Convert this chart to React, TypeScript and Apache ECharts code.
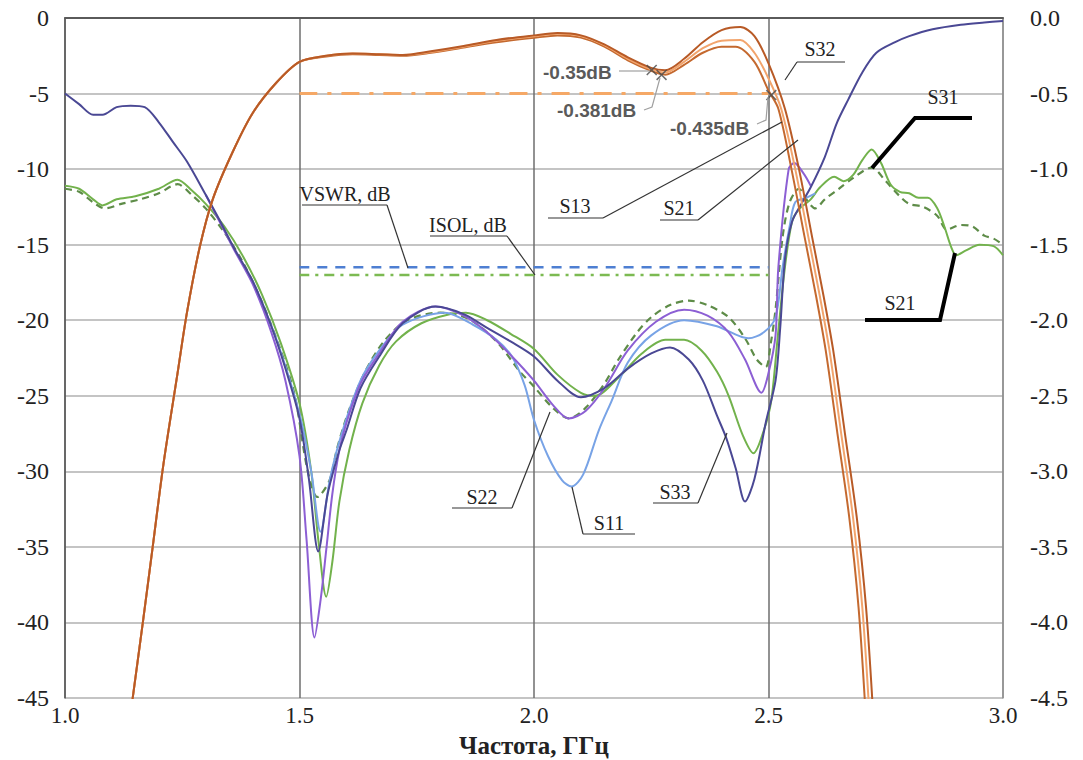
import React, { useEffect, useRef } from 'react';
import * as echarts from 'echarts';

// ---- data (frequency GHz, dB) ----
const xTicks = [1.0, 1.5, 2.0, 2.5, 3.0];
const xTitle = 'Частота, ГГц';

// left axis (dB), reflection / isolation
const s33Navy: number[][] = [[1.0,-5.0],[1.03,-5.7],[1.06,-6.4],[1.08,-6.4],[1.11,-5.9],[1.14,-5.8],[1.17,-5.9],[1.2,-6.9],[1.23,-8.2],[1.26,-9.5],[1.3,-11.7],[1.33,-13.4],[1.36,-15.2],[1.4,-17.4],[1.44,-20.4],[1.47,-23.2],[1.5,-26.5],[1.52,-30.5],[1.54,-35.3],[1.56,-31.5],[1.585,-28.6],[1.6,-27.3],[1.63,-24.5],[1.67,-22.4],[1.72,-20.2],[1.79,-19.1],[1.85,-19.6],[1.9,-20.5],[1.95,-21.4],[2.0,-22.4],[2.05,-24.0],[2.1,-25.1],[2.15,-24.5],[2.2,-23.2],[2.25,-22.2],[2.29,-21.8],[2.33,-22.6],[2.36,-24.0],[2.39,-26.3],[2.41,-27.8],[2.43,-29.8],[2.45,-32.0],[2.47,-30.5],[2.494,-26.8],[2.515,-24.0],[2.525,-20.5],[2.535,-16.0],[2.55,-13.5],[2.57,-12.3],[2.59,-11.2],[2.62,-9.2],[2.645,-7.0],[2.67,-5.4],[2.7,-3.6],[2.73,-2.3],[2.77,-1.6],[2.8,-1.2],[2.85,-0.75],[2.91,-0.45],[2.96,-0.3],[3.0,-0.2]];
const s22Purple: number[][] = [[1.3,-11.7],[1.36,-15.3],[1.4,-17.6],[1.44,-20.8],[1.47,-24.0],[1.5,-29.0],[1.515,-34.5],[1.532,-41.0],[1.545,-38.5],[1.557,-35.2],[1.57,-31.5],[1.585,-28.6],[1.6,-26.8],[1.63,-24.2],[1.67,-22.2],[1.72,-20.1],[1.79,-19.1],[1.85,-19.7],[1.9,-20.8],[1.95,-22.3],[2.0,-24.0],[2.04,-25.6],[2.074,-26.5],[2.11,-26.0],[2.15,-24.5],[2.2,-22.0],[2.26,-20.1],[2.32,-19.3],[2.37,-19.7],[2.415,-20.8],[2.45,-22.6],[2.485,-24.8],[2.5,-23.5],[2.515,-21.0],[2.521,-16.5],[2.543,-10.0],[2.555,-9.6],[2.575,-10.3],[2.59,-11.1]];
const s11Blue: number[][] = [[1.4,-17.4],[1.45,-21.2],[1.5,-26.2],[1.525,-30.0],[1.545,-34.0],[1.565,-30.5],[1.59,-27.5],[1.63,-24.0],[1.67,-22.0],[1.72,-20.3],[1.81,-19.5],[1.87,-20.3],[1.92,-21.3],[1.953,-22.4],[1.98,-24.3],[2.0,-26.6],[2.03,-29.0],[2.06,-30.6],[2.08,-31.0],[2.105,-30.2],[2.138,-27.3],[2.166,-25.3],[2.2,-22.8],[2.25,-21.0],[2.32,-20.0],[2.39,-20.4],[2.457,-21.2],[2.49,-20.8],[2.515,-19.8],[2.53,-16.5],[2.545,-13.8],[2.557,-12.2],[2.58,-11.9],[2.6,-11.6]];
const s21Green: number[][] = [[1.0,-11.1],[1.03,-11.3],[1.06,-12.0],[1.08,-12.4],[1.11,-12.0],[1.15,-11.8],[1.2,-11.3],[1.24,-10.7],[1.27,-11.4],[1.3,-12.3],[1.34,-13.8],[1.38,-15.8],[1.42,-18.3],[1.46,-21.5],[1.5,-25.5],[1.525,-30.0],[1.54,-34.5],[1.557,-38.3],[1.57,-36.0],[1.585,-32.0],[1.606,-28.6],[1.634,-25.5],[1.67,-23.0],[1.706,-21.4],[1.76,-20.2],[1.82,-19.6],[1.855,-19.5],[1.9,-20.0],[1.95,-20.9],[2.0,-21.9],[2.05,-23.6],[2.1,-24.8],[2.13,-25.0],[2.18,-23.8],[2.23,-22.2],[2.28,-21.3],[2.32,-21.3],[2.357,-22.0],[2.39,-23.4],[2.415,-25.0],[2.445,-27.6],[2.468,-28.8],[2.49,-27.3],[2.506,-25.3],[2.52,-21.0],[2.535,-16.5],[2.55,-13.5],[2.564,-12.7],[2.59,-12.0],[2.61,-11.2],[2.64,-10.5],[2.66,-10.8],[2.68,-10.4],[2.7,-9.4],[2.72,-8.7],[2.74,-9.6],[2.76,-11.0],[2.78,-11.5],[2.8,-11.6],[2.82,-11.9],[2.84,-11.9],[2.86,-12.6],[2.875,-13.8],[2.89,-15.2],[2.9,-15.7],[2.92,-15.4],[2.95,-15.0],[2.98,-15.1],[3.0,-15.7]];
const s31Dashed: number[][] = [[1.0,-11.3],[1.03,-11.5],[1.06,-12.2],[1.085,-12.6],[1.12,-12.3],[1.16,-12.0],[1.2,-11.6],[1.24,-11.0],[1.27,-11.7],[1.3,-12.6],[1.34,-14.2],[1.38,-16.2],[1.42,-18.8],[1.46,-22.0],[1.49,-25.0],[1.517,-29.9],[1.538,-31.7],[1.564,-30.6],[1.58,-28.5],[1.605,-26.0],[1.64,-23.4],[1.68,-21.4],[1.73,-20.0],[1.8,-19.5],[1.86,-19.9],[1.92,-21.4],[1.97,-23.4],[2.0,-24.4],[2.04,-25.8],[2.074,-26.5],[2.11,-25.8],[2.15,-24.2],[2.18,-22.6],[2.22,-20.8],[2.25,-19.8],[2.29,-19.0],[2.33,-18.7],[2.37,-19.0],[2.415,-19.8],[2.45,-21.2],[2.475,-22.6],[2.494,-23.1],[2.505,-21.5],[2.515,-19.3],[2.53,-14.5],[2.545,-12.2],[2.565,-11.3],[2.585,-12.2],[2.6,-12.6],[2.62,-12.0],[2.65,-11.3],[2.68,-10.6],[2.72,-9.9],[2.75,-10.8],[2.78,-11.8],[2.8,-12.3],[2.83,-12.5],[2.86,-13.1],[2.88,-14.0],[2.91,-13.7],[2.935,-13.8],[2.96,-14.4],[2.98,-14.6],[3.0,-15.0]];
const vswrLevel: number[][] = [[1.5,-16.5],[2.5,-16.5]];
const isolLevel: number[][] = [[1.5,-17.0],[2.5,-17.0]];

// right axis (dB), transmission
const s32Outer: number[][] = [[1.14,-4.6],[1.166,-4.0],[1.187,-3.5],[1.21,-2.95],[1.24,-2.35],[1.26,-1.95],[1.287,-1.52],[1.315,-1.2],[1.357,-0.89],[1.4,-0.63],[1.45,-0.43],[1.5,-0.29],[1.557,-0.25],[1.613,-0.235],[1.67,-0.24],[1.72,-0.245],[1.78,-0.22],[1.85,-0.185],[1.92,-0.145],[2.0,-0.115],[2.05,-0.1],[2.1,-0.115],[2.15,-0.175],[2.2,-0.26],[2.25,-0.33],[2.28,-0.345],[2.32,-0.27],[2.36,-0.16],[2.4,-0.08],[2.44,-0.06],[2.47,-0.12],[2.5,-0.3],[2.535,-0.6],[2.565,-1.0],[2.593,-1.45],[2.618,-1.85],[2.638,-2.2],[2.663,-2.75],[2.688,-3.3],[2.708,-3.9],[2.723,-4.6]];
const s21Middle: number[][] = [[1.14,-4.6],[1.166,-4.0],[1.187,-3.5],[1.21,-2.95],[1.24,-2.35],[1.26,-1.95],[1.287,-1.52],[1.315,-1.2],[1.357,-0.89],[1.4,-0.63],[1.45,-0.43],[1.5,-0.29],[1.557,-0.25],[1.613,-0.235],[1.67,-0.24],[1.72,-0.245],[1.78,-0.225],[1.85,-0.19],[1.92,-0.15],[2.0,-0.12],[2.05,-0.105],[2.1,-0.12],[2.15,-0.18],[2.2,-0.27],[2.25,-0.34],[2.28,-0.36],[2.32,-0.29],[2.36,-0.2],[2.4,-0.15],[2.44,-0.145],[2.47,-0.23],[2.5,-0.4],[2.527,-0.6],[2.557,-1.0],[2.585,-1.45],[2.61,-1.85],[2.63,-2.2],[2.655,-2.75],[2.68,-3.3],[2.7,-3.9],[2.715,-4.6]];
const s13Inner: number[][] = [[1.14,-4.6],[1.166,-4.0],[1.187,-3.5],[1.21,-2.95],[1.24,-2.35],[1.26,-1.95],[1.287,-1.52],[1.315,-1.2],[1.357,-0.89],[1.4,-0.63],[1.45,-0.43],[1.5,-0.29],[1.557,-0.255],[1.613,-0.24],[1.67,-0.245],[1.72,-0.25],[1.78,-0.23],[1.85,-0.195],[1.92,-0.16],[2.0,-0.13],[2.05,-0.115],[2.1,-0.13],[2.15,-0.19],[2.2,-0.28],[2.25,-0.35],[2.28,-0.375],[2.32,-0.31],[2.36,-0.23],[2.4,-0.19],[2.43,-0.19],[2.47,-0.29],[2.5,-0.48],[2.521,-0.6],[2.549,-1.0],[2.577,-1.45],[2.602,-1.85],[2.622,-2.2],[2.647,-2.75],[2.672,-3.3],[2.692,-3.9],[2.707,-4.6]];
const ilLimit: number[][] = [[1.5,-0.5],[2.5,-0.5]];
const ilMarkers: number[][] = [[2.251,-0.344],[2.272,-0.377],[2.506,-0.51]];

const SERIF = '"Liberation Serif", "Times New Roman", serif';
const SANS = '"Liberation Sans", Arial, sans-serif';

function tag(text: string, cx: number, cy: number, ux1: number, ux2: number, uy: number, leader: number[][]) {
  return [
    { type: 'text', x: cx, y: cy, z: 100, style: { text, fontFamily: SERIF, fontSize: 20, fill: '#222', align: 'center', verticalAlign: 'middle' } },
    { type: 'line', z: 100, shape: { x1: ux1, y1: uy, x2: ux2, y2: uy }, style: { stroke: '#333', lineWidth: 1.2 } },
    { type: 'polyline', z: 100, shape: { points: leader }, style: { stroke: '#333', lineWidth: 1.2, fill: 'none' } },
  ];
}
function thickTag(text: string, cx: number, cy: number, pts: number[][]) {
  return [
    { type: 'text', x: cx, y: cy, z: 100, style: { text, fontFamily: SERIF, fontSize: 20, fill: '#222', align: 'center', verticalAlign: 'middle' } },
    { type: 'polyline', z: 100, shape: { points: pts }, style: { stroke: '#000', lineWidth: 4, fill: 'none' } },
  ];
}
function dbTag(text: string, x: number, y: number, leader: number[][]) {
  return [
    { type: 'text', x, y, z: 100, style: { text, fontFamily: SANS, fontWeight: 'bold', fontSize: 19, fill: '#5a5a5a', align: 'left', verticalAlign: 'middle' } },
    { type: 'polyline', z: 100, shape: { points: leader }, style: { stroke: '#a0a0a0', lineWidth: 1.2, fill: 'none' } },
  ];
}

const lineS = (name: string, data: number[][], color: string, yAxisIndex = 0, extra: any = {}) => ({
  name, type: 'line', data, yAxisIndex, showSymbol: false, smooth: 0.3, symbol: 'none',
  lineStyle: { color, width: 2, ...(extra.lineStyle || {}) }, z: extra.z || 2,
});

const option: any = {
  animation: false,
  backgroundColor: '#fff',
  textStyle: { fontFamily: SERIF },
  grid: { left: 65, top: 18, right: 80, bottom: 62, containLabel: false, outerBoundsMode: 'none' },
  xAxis: {
    type: 'value', min: 1.0, max: 3.0, interval: 0.5,
    axisLine: { show: true, lineStyle: { color: '#5a5a5a', width: 2 } },
    axisTick: { show: false },
    axisLabel: { fontFamily: SERIF, fontSize: 23, lineHeight: 23, color: '#222', margin: 6, formatter: (v: number) => v.toFixed(1) },
    splitLine: { show: true, lineStyle: { color: '#6e6e6e', width: 1.5 } },
  },
  yAxis: [
    {
      type: 'value', min: -45, max: 0, interval: 5,
      axisLine: { show: true, lineStyle: { color: '#5a5a5a', width: 1.5 } },
      axisTick: { show: false },
      axisLabel: { fontFamily: SERIF, fontSize: 24, color: '#222', margin: 16 },
      splitLine: { show: true, lineStyle: { color: '#b0b0b0', width: 1.5 } },
    },
    {
      type: 'value', min: -4.5, max: 0, interval: 0.5, position: 'right',
      axisLine: { show: true, lineStyle: { color: '#9a9a9a', width: 1.5 } },
      axisTick: { show: false },
      axisLabel: { fontFamily: SERIF, fontSize: 24, color: '#222', margin: 27, formatter: (v: number) => v.toFixed(1) },
      splitLine: { show: false },
    },
  ],
  series: [
    lineS('S31', s31Dashed, '#5e8c48', 0, { lineStyle: { type: [7, 5], width: 2.2 } }),
    lineS('S21 изол.', s21Green, '#72b24c'),
    lineS('S11', s11Blue, '#78a3e6'),
    lineS('S22', s22Purple, '#8c5fd4'),
    lineS('S33', s33Navy, '#4a4894'),
    lineS('VSWR, dB', vswrLevel, '#4e7fd2', 0, { lineStyle: { type: [10, 8], width: 2.5 } }),
    lineS('ISOL, dB', isolLevel, '#7cba52', 0, { lineStyle: { type: [10, 6, 3, 6], width: 2.5 } }),
    lineS('IL limit', ilLimit, '#f5a866', 1, { lineStyle: { type: [18, 10, 4, 10], width: 3 } }),
    lineS('S13', s13Inner, '#c4692f', 1, { z: 3 }),
    lineS('S21', s21Middle, '#f2a46c', 1, { z: 3 }),
    lineS('S32', s32Outer, '#b85a26', 1, { z: 3 }),
    {
      name: 'markers', type: 'scatter', yAxisIndex: 1, data: ilMarkers, z: 5,
      symbol: 'path://M0,1 L1,0 L5,4 L9,0 L10,1 L6,5 L10,9 L9,10 L5,6 L1,10 L0,9 L4,5 Z',
      symbolSize: 11, itemStyle: { color: '#4a4a4a' },
    },
  ],
  graphic: [
    { type: 'text', x: 534, y: 745, z: 100, style: { text: xTitle, fontFamily: SERIF, fontSize: 25, lineHeight: 25, fontWeight: 'bold', fill: '#222', align: 'center', verticalAlign: 'middle' } },
    ...tag('S32', 820, 49, 797, 845, 62, [[797, 62], [785, 80]]),
    ...tag('S13', 575, 206, 548, 603, 218, [[603, 218], [782, 122]]),
    ...tag('S21', 679, 208, 660, 698, 220, [[698, 220], [798, 140]]),
    ...tag('VSWR, dB', 345, 194, 302, 387, 205, [[387, 205], [408, 268]]),
    ...tag('ISOL, dB', 468, 225, 430, 507, 236, [[507, 236], [535, 275]]),
    ...tag('S22', 482, 497, 452, 512, 508, [[512, 508], [550, 412]]),
    ...tag('S11', 609, 523, 583, 635, 534, [[583, 534], [572, 487]]),
    ...tag('S33', 675, 492, 653, 698, 503, [[698, 503], [727, 433]]),
    ...thickTag('S31', 943, 97, [[972, 118], [915, 118], [872, 168]]),
    ...thickTag('S21', 900, 303, [[865, 320], [940, 320], [955, 253]]),
    ...dbTag('-0.35dB', 543, 72, [[619, 71], [650, 71]]),
    ...dbTag('-0.381dB', 557, 110, [[644, 110], [652, 107], [660, 78]]),
    ...dbTag('-0.435dB', 670, 128, [[757, 124], [766, 120], [768, 97]]),
  ],
};

export default function App() {
  const ref = useRef<HTMLDivElement>(null);
  useEffect(() => {
    if (!ref.current) return;
    const chart = echarts.init(ref.current, null, { renderer: 'svg' });
    chart.setOption(option);
    return () => chart.dispose();
  }, []);
  return <div ref={ref} style={{ position: 'fixed', left: 0, top: 0, width: 1083, height: 760, background: '#fff' }} />;
}
